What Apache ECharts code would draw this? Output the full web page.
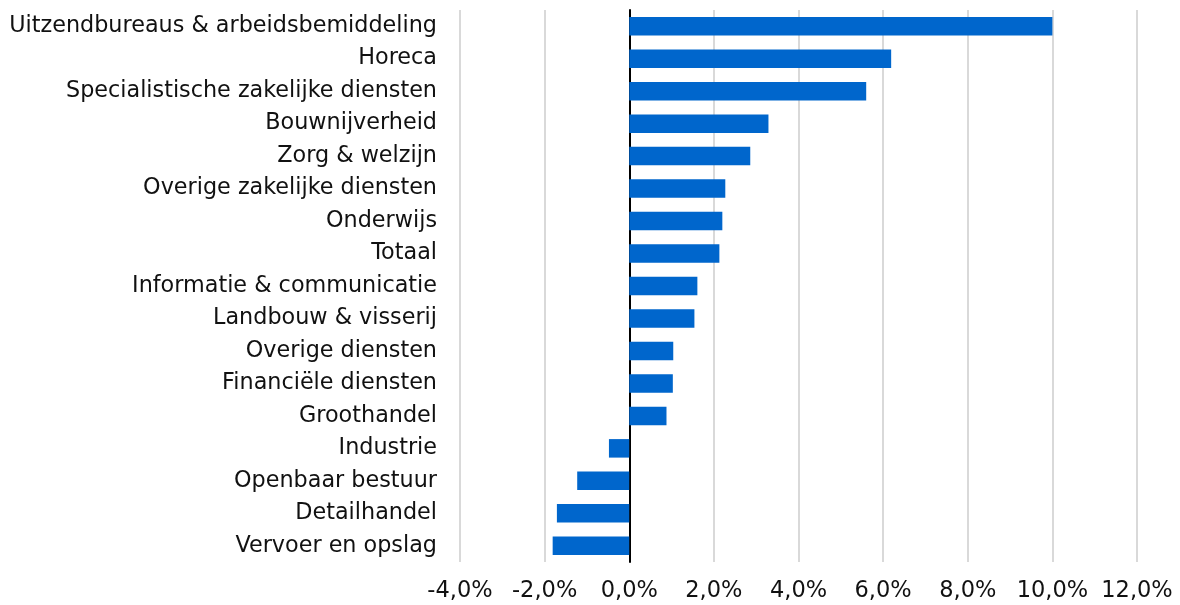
<!DOCTYPE html>
<html>
<head>
<meta charset="utf-8">
<script src="https://cdn.jsdelivr.net/npm/echarts@6/dist/echarts.min.js"></script>
<style>
  html, body { margin: 0; padding: 0; background: #fff; }
  #chart { width: 1180px; height: 605px; }
</style>
</head>
<body>
<div id="chart"></div>
<script>
// sectoren, van boven naar beneden
var sectors = [
    'Uitzendbureaus & arbeidsbemiddeling',
    'Horeca',
    'Specialistische zakelijke diensten',
    'Bouwnijverheid',
    'Zorg & welzijn',
    'Overige zakelijke diensten',
    'Onderwijs',
    'Totaal',
    'Informatie & communicatie',
    'Landbouw & visserij',
    'Overige diensten',
    'Financiële diensten',
    'Groothandel',
    'Industrie',
    'Openbaar bestuur',
    'Detailhandel',
    'Vervoer en opslag'
];
// groei in procenten
var growth = [10.0, 6.19, 5.6, 3.29, 2.86, 2.27, 2.2, 2.13, 1.61, 1.54, 1.04, 1.03, 0.88, -0.48, -1.23, -1.71, -1.81];

var axisMin = -4;
var axisMax = 12;
var axisStep = 2;

var myChart = echarts.init(document.getElementById('chart'));

myChart.setOption({
    animation: false,
    textStyle: { fontFamily: 'DejaVu Sans' },
    grid: {
        left: 460,
        right: 43,
        top: 10,
        bottom: 43,
        containLabel: false
    },
    xAxis: {
        type: 'value',
        min: axisMin,
        max: axisMax,
        interval: axisStep,
        axisLine: { show: false },
        axisTick: { show: false },
        splitLine: { show: true, lineStyle: { color: '#d9d9d9', width: 2 } },
        axisLabel: {
            color: '#111',
            fontSize: 22.5,
            margin: 18,
            formatter: function (v) {
                return v.toFixed(1).replace('.', ',') + '%';
            }
        }
    },
    yAxis: {
        type: 'category',
        data: sectors,
        inverse: true,
        axisLine: { show: true, onZero: true, lineStyle: { color: '#000', width: 2 } },
        axisTick: { show: false },
        axisLabel: {
            color: '#111',
            fontSize: 22.3,
            margin: 23
        }
    },
    series: [
        {
            type: 'bar',
            data: growth,
            barCategoryGap: '43%',
            itemStyle: { color: '#0066cc' }
        }
    ]
});
</script>
</body>
</html>
